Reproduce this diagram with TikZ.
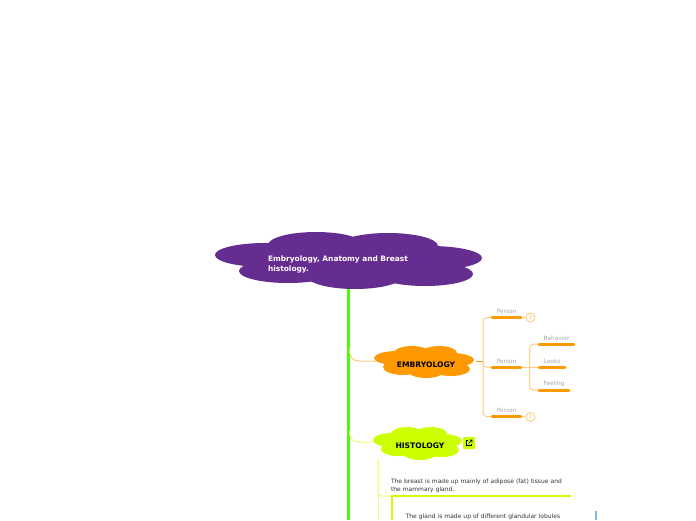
\documentclass[tikz,border=0pt]{standalone}
\usepackage{fontspec}
\setmainfont{DejaVu Sans}
\usetikzlibrary{shapes.geometric, positioning, calc, backgrounds}
\definecolor{cRoot}{RGB}{102,45,145}
\definecolor{cTrunk}{RGB}{70,255,0}
\definecolor{cOrange}{RGB}{255,153,0}
\definecolor{cOrangeSoft}{RGB}{255,205,130}
\definecolor{cLime}{RGB}{204,255,0}
\definecolor{cLimeSoft}{RGB}{235,255,120}
\definecolor{cLabel}{RGB}{165,165,165}
\definecolor{cBlue}{RGB}{130,185,240}
\tikzset{
    rootlabel/.style={text width=145pt, align=left, inner sep=0pt, text=white, font=\fontsize{7.45}{9.2}\selectfont\bfseries},
    toplabel/.style={minimum height=20pt, inner sep=0pt, text=black, font=\fontsize{7.6}{8}\selectfont\bfseries},
    leaf/.style={minimum height=12pt, inner sep=0pt, text=cLabel, font=\fontsize{5.8}{6}\selectfont},
    para/.style={text width=180pt, minimum height=20pt, align=left, inner sep=0pt, text=black!80, font=\fontsize{6}{8.6}\selectfont},
    badge/.style={circle, draw=cOrangeSoft, line width=0.9pt, fill=white, minimum size=9pt, inner sep=0pt, text=cOrange!70, font=\fontsize{5}{5}\selectfont},
    iconbox/.style={rectangle, rounded corners=1pt, fill=cLime, minimum size=12pt, inner sep=0pt},
    trunkline/.style={cTrunk, line width=3pt},
    softorange/.style={cOrangeSoft, line width=1pt, rounded corners=4pt},
    softlime/.style={cLimeSoft, line width=1pt, rounded corners=4pt},
    leafline/.style={cOrange, line width=2.8pt, line cap=round, shorten <=1.2pt, shorten >=1.2pt},
    paraline/.style={cLime, line width=2pt},
}
\begin{document}
\begin{tikzpicture}[x=1pt, y=-1pt]
    \useasboundingbox (0,0) rectangle (696,520);
    % clouds
    \foreach \cx/\cy/\rx/\ry in {265/255/50/12, 316/245/48/13, 388/246/50/13, 430/258/52/12, 288/271/49/12, 355/276/48/13, 425/274/48/12, 345/260/90/16}
        \fill[cRoot] (\cx,\cy) ellipse ({\rx} and {\ry});
    \foreach \cx/\cy/\rx/\ry in {397/358/23/7, 412/353/18/7, 439/353/18/7, 451/360/23/7, 403/367/20/8, 426/371/18/7, 451/369/19/7, 424/361/35/10}
        \fill[cOrange] (\cx,\cy) ellipse ({\rx} and {\ry});
    \foreach \cx/\cy/\rx/\ry in {392/440/19/7, 407/434/16/7, 431/434/16/7, 442/441/20/7, 398/449/17/7, 420/453/17/7, 442/450/17/7, 418/443/32/10}
        \fill[cLime] (\cx,\cy) ellipse ({\rx} and {\ry});
    % nodes
    \node[rootlabel] (root) at (340.5,264.5) {Embryology, Anatomy and Breast\\histology.};
    \node[toplabel, minimum width=100pt] (embryology) at (426,364.5) {EMBRYOLOGY};
    \node[toplabel, minimum width=90pt] (histology) at (420,445.5) {HISTOLOGY};
    \node[iconbox] (link) at (469,443) {};
    \node[leaf, minimum width=31pt] (person1) at (506.5,311.5) {Person};
    \node[leaf, minimum width=31pt] (person2) at (506.5,361) {Person};
    \node[leaf, minimum width=31pt] (person3) at (506.5,410.5) {Person};
    \node[leaf, minimum width=37pt] (behavior) at (556.5,338) {Behavior};
    \node[leaf, minimum width=28pt] (looks) at (552,361) {Looks};
    \node[leaf, minimum width=32pt] (feeling) at (554,384) {Feeling};
    \node[badge] (badge1) at (530.5,317.5) {3};
    \node[badge] (badge3) at (530.5,417) {3};
    \node[para] (breast) at (481,486) {The breast is made up mainly of adipose (fat) tissue and\\the mammary gland.};
    \node[para, anchor=north west, minimum height=0pt] (gland) at (405.5,514) {The gland is made up of different glandular lobules};
    % link glyph
    \draw[black, line width=0.6pt] (468,440.5) -- (466.5,440.5) -- (466.5,445.5) -- (471.5,445.5) -- (471.5,444);
    \draw[black, line width=0.6pt] (468.5,443.5) -- (472,440) (469.5,440) -- (472,440) -- (472,442.5);
    \coordinate (trunkfoot) at (348.5,520);
    \coordinate (embstart) at (349.5,349);
    \coordinate (histstart) at (349.5,431);
    \coordinate (embfork) at (483,361);
    \coordinate (p2fork) at (529.5,367);
    \coordinate (histfork) at (378,459);
    \coordinate (histfoot) at (378,520);
    \coordinate (breastfoot) at (392,520);
    \coordinate (blueend) at (596,520);
    \coordinate (bluestart) at (596,511);
    % connectors
    \begin{scope}[on background layer]
        \draw[trunkline] (root.south -| trunkfoot) -- (trunkfoot);
        \draw[cOrangeSoft, line width=1pt] (embstart) .. controls (349.5,358) and (353,361) .. (360,361) -- ([yshift=3.5pt]embryology.west);
        \draw[cLimeSoft, line width=1pt] (histstart) .. controls (349.5,439) and (353,442) .. (360,442) -- ([yshift=3.5pt]histology.west);
        \draw[cOrange, line width=1pt] ([yshift=3.5pt]embryology.east) -- (embfork);
        \draw[softorange] (person1.south west) -| (embfork) |- (person3.south west);
        \draw[softorange] (embfork) |- (person2.south west);
        \draw[softorange] (behavior.south west) -| (p2fork) |- (feeling.south west);
        \draw[softorange] (person2.south east) -- (looks.south west);
        \draw[softorange] (person1.south east) -- (badge1);
        \draw[softorange] (person3.south east) -- (badge3);
        \draw[softlime] (histfork) |- (breast.south west);
        \draw[softlime] (histfork) -- (histfoot);
        \draw[leafline] (person1.south west) -- (person1.south east);
        \draw[leafline] (person2.south west) -- (person2.south east);
        \draw[leafline] (person3.south west) -- (person3.south east);
        \draw[leafline] (behavior.south west) -- (behavior.south east);
        \draw[leafline] (looks.south west) -- (looks.south east);
        \draw[leafline] (feeling.south west) -- (feeling.south east);
        \draw[paraline] (breast.south west) -- (breast.south east);
        \draw[paraline] (breast.south west -| breastfoot) -- (breastfoot);
        \draw[cBlue, line width=2pt] (bluestart) -- (blueend);
    \end{scope}
\end{tikzpicture}
\end{document}
